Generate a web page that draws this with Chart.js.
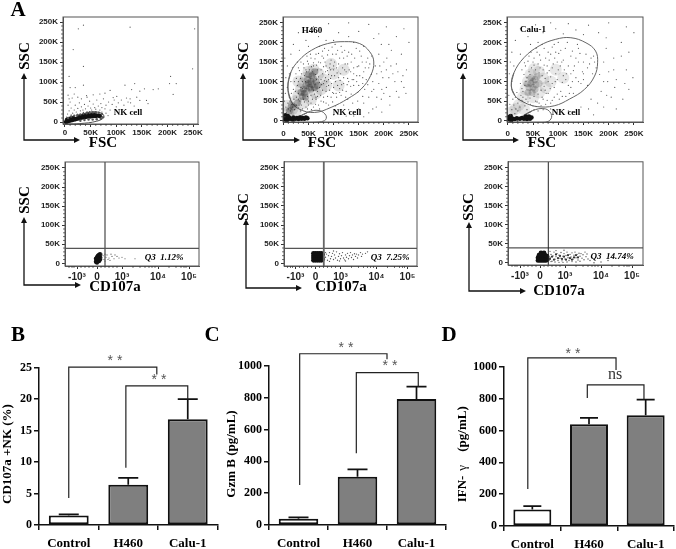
<!DOCTYPE html>
<html>
<head>
<meta charset="utf-8">
<style>
  html, body { margin: 0; padding: 0; background: #fff; }
  #fig { position: relative; width: 676px; height: 549px; overflow: hidden; }
  #fig canvas { position: absolute; filter: blur(0.3px); }
</style>
<script src="https://cdn.jsdelivr.net/npm/chart.js@4"></script>
</head>
<body>
<div id="fig"></div>
<script>
// Axis ticks
const scatterTicks = [0, 50, 100, 150, 200, 250];
const scatterLabels = ["0", "50K", "100K", "150K", "200K", "250K"];
const scatterMinor = [10, 20, 30, 40, 60, 70, 80, 90, 110, 120, 130, 140, 160, 170, 180, 190, 210, 220, 230, 240];
const cdTicks = [-20, 0, 25, 61, 92];
const cdLabels = ["-10³", "0", "10³", "10⁴", "10⁵"];
const cdMinor = [-28, -25, -23, -16, -12, -8, -4, 4, 8, 12, 16, 20, 36, 43, 48, 52, 55, 58, 72, 79, 84, 87, 89];

// Panel A, top row: NK cells only
const nkSparse = [[26,233],[36,242],[127,237],[253,233],[16,181],[36,139],[249,133],[8,114],[10,86],[20,86],[36,92],[6,67],[8,58],[43,62],[88,79],[117,92],[136,96],[130,81],[146,77],[155,83],[172,81],[182,83],[206,114],[217,96],[204,96],[211,69],[94,61],[101,64],[127,58],[123,50],[146,54],[159,54],[162,46],[5,20],[8,28],[12,35],[15,22],[18,30],[20,42],[22,25],[25,34],[28,48],[30,28],[32,38],[35,30],[38,44],[40,33],[43,26],[45,40],[48,52],[50,35],[52,30],[55,45],[58,36],[60,32],[62,55],[65,40],[68,30],[70,46],[72,36],[75,58],[78,33],[80,42],[85,50],[88,30],[92,44],[96,55],[100,38],[104,48],[110,55],[115,42],[120,60],[128,48],[135,40],[140,62],[10,50],[14,60],[6,42],[18,70],[25,62],[32,58],[42,66],[55,68],[68,70],[78,72],[3,12],[12,18],[24,20],[36,24],[48,26],[60,26],[72,25],[80,22],[84,16]];
const nkHalo = [[6,10],[12,14],[18,16],[24,17],[30,19],[36,21],[42,22],[48,23],[54,24],[60,24],[66,23],[72,20],[74,12],[70,8],[62,7],[54,6],[46,6],[38,5],[30,3]];
const nkBlob = [[2,0],[5,2],[8,3],[11,4],[14,5],[17,6],[20,7],[23,8],[26,9],[29,10],[32,11],[35,12],[38,12],[41,13],[44,14],[47,14],[50,14],[53,15],[56,15],[59,15],[62,16],[65,16],[68,15],[4,6],[10,8],[16,10],[28,14],[34,15],[40,17],[46,18],[52,18],[58,19]];
const nkGate = [[0,-2],[23,12],[49,25],[71,22],[76,12],[62,2],[29,-4],[3,-5]];

// H460 co-culture
const h460Sparse = [[30,225],[60,240],[90,248],[130,250],[170,246],[205,240],[240,235],[20,195],[45,205],[70,215],[110,225],[150,228],[190,222],[225,215],[250,200],[15,170],[195,195],[215,180],[235,170],[190,170],[200,150],[225,145],[245,130],[195,125],[210,110],[235,100],[190,95],[205,85],[225,75],[180,80],[170,60],[195,55],[160,45],[185,35],[150,30],[130,28],[110,25],[170,20],[140,12],[8,140],[5,110],[3,160],[12,60],[25,120],[30,135],[35,150],[45,130],[50,145],[55,160],[60,140],[65,170],[70,150],[75,130],[80,160],[85,140],[90,180],[95,155],[100,130],[105,170],[110,145],[115,190],[120,160],[125,125],[130,175],[135,150],[140,120],[145,185],[150,140],[155,165],[160,125],[165,150],[170,135],[140,90],[130,100],[120,95],[110,110],[100,85],[90,105],[85,75],[95,60],[105,70],[115,65],[125,75],[135,68],[80,60],[75,50],[70,40],[65,55],[60,35],[55,45],[50,50],[45,35],[85,45],[30,70],[35,85],[38,100],[42,115],[46,125],[52,130],[58,125],[64,118],[70,112],[75,105],[80,95],[72,85],[68,75],[62,68],[55,65],[48,62],[40,55],[33,50],[26,60],[28,90],[34,108],[60,148],[68,130],[78,120],[84,110],[90,90],[96,115],[88,128],[104,100],[76,92],[65,60],[58,55],[50,40],[3,10],[6,20],[10,30],[14,25],[18,35],[22,28],[26,40],[5,35],[9,45],[13,50],[17,42],[21,55],[30,33],[34,25],[38,30],[83,150],[92,135],[98,170],[107,122],[113,103],[118,135],[128,145],[137,105],[146,100],[152,115],[158,95],[122,180],[103,195],[78,178],[72,190],[47,165],[40,145],[22,100],[20,80],[16,70],[112,82],[98,72],[88,62],[148,72],[128,55],[165,105],[175,118],[183,140],[176,165],[160,190],[140,200],[100,205],[205,130],[218,120],[230,60],[200,70],[212,40],[240,85]];
const h460Fill = [[36,120],[41,135],[48,152],[54,170],[63,158],[70,172],[77,165],[82,185],[88,168],[93,145],[97,188],[102,150],[108,180],[112,160],[117,175],[123,145],[127,165],[131,130],[136,170],[142,160],[147,138],[152,178],[157,150],[163,135],[168,160],[172,145],[146,115],[140,105],[134,88],[127,92],[120,110],[114,120],[108,90],[102,115],[96,95],[92,78],[86,88],[82,102],[78,78],[74,65],[68,62],[60,78],[66,105],[72,98],[84,125],[90,118],[94,130],[100,140],[106,135],[112,72],[118,78],[124,60],[106,60],[98,48],[90,40],[80,48],[72,30],[64,42],[56,28],[48,30],[42,48],[36,40],[30,55],[24,75],[30,100],[26,108],[32,128],[38,82],[44,100],[56,138],[66,142],[74,148],[80,138],[86,100],[94,108],[100,70],[116,92],[122,130],[128,108],[134,125],[140,135],[150,90],[158,110],[162,80],[168,92],[178,100],[186,120],[192,140],[198,110],[206,160],[214,140],[222,100],[228,125],[196,80],[186,60],[176,75],[212,62],[238,115],[244,70],[158,62],[148,50],[138,45],[120,40],[104,38],[178,30],[196,22],[160,10],[125,12],[100,15],[210,195],[180,210],[130,215],[85,205],[50,190],[32,180],[28,150],[12,120],[18,135],[8,85],[4,70],[2,50],[15,100]];
const h460Haze = [[25,50],[30,65],[35,80],[40,95],[45,110],[50,125],[60,130],[70,120],[80,105],[75,80],[65,70],[55,55],[40,45],[85,90],[30,100],[60,90],[10,20],[18,30],[25,25],[8,38],[100,120],[110,90],[95,145],[120,130]];
const h460Core = [[40,80],[45,90],[50,95],[55,100],[52,85],[58,92],[48,105],[60,108],[42,70],[47,75],[55,80],[62,85],[65,100],[57,115],[50,118],[38,62],[44,60],[68,90],[35,72],[62,125],[28,45],[20,35],[12,25],[16,40]];
const h460Blob = [[3,3],[6,6],[3,9],[7,1],[10,4],[12,8],[15,5],[18,3],[20,8],[24,5],[27,7],[30,4],[33,8],[36,5],[39,7],[42,5],[45,8],[48,6],[4,14],[9,12]];
const h460Gate = [[9,86],[15,124],[31,154],[56,180],[88,197],[122,202],[152,197],[172,176],[180,150],[174,116],[155,81],[128,56],[95,34],[62,21],[31,30],[15,51]];
const h460NkGate = [[21,0],[48,21],[71,26],[85,13],[82,0],[55,-5],[28,-7]];

// Calu-1 co-culture
const caluSparse = [[25,235],[55,245],[85,250],[120,248],[160,244],[200,250],[235,240],[250,225],[40,215],[15,205],[70,225],[110,222],[150,220],[195,212],[225,200],[195,185],[240,175],[210,160],[190,150],[235,130],[200,125],[215,105],[190,100],[240,80],[185,75],[205,60],[165,55],[190,35],[145,35],[120,25],[170,15],[5,150],[3,120],[8,175],[28,130],[33,148],[42,165],[50,150],[58,175],[65,155],[72,185],[78,140],[85,170],[92,195],[98,150],[105,180],[112,130],[118,200],[125,165],[132,140],[140,185],[148,125],[155,170],[162,145],[168,120],[145,95],[135,110],[125,85],[115,105],[105,75],[95,120],[88,95],[80,70],[92,60],[102,55],[115,62],[130,70],[70,55],[62,45],[75,42],[55,50],[45,42],[85,45],[30,75],[34,90],[38,110],[42,125],[47,135],[55,130],[62,122],[68,115],[74,108],[80,100],[72,88],[66,78],[60,68],[52,62],[44,58],[36,55],[26,65],[25,95],[32,118],[60,145],[70,130],[78,122],[85,112],[92,85],[98,105],[88,135],[108,98],[74,78],[5,15],[8,28],[12,40],[16,30],[20,45],[24,35],[28,52],[4,42],[10,55],[15,60],[34,38],[38,28],[44,22],[52,28],[60,25],[70,28],[125,120],[140,150],[110,155],[95,175],[82,155],[150,105],[158,90],[175,135],[170,165],[138,195],[100,200],[60,200],[212,85],[228,55],[178,45]];
const caluFill = [[35,140],[40,152],[46,175],[52,160],[56,185],[63,168],[68,195],[75,160],[80,175],[88,188],[93,160],[101,172],[107,150],[114,185],[120,140],[128,178],[135,160],[143,172],[150,150],[158,135],[165,160],[172,150],[150,120],[140,100],[128,100],[120,90],[110,115],[100,130],[94,100],[84,82],[76,70],[68,60],[58,48],[50,38],[40,48],[30,60],[28,82],[36,100],[44,118],[52,142],[64,135],[72,142],[82,128],[90,145],[104,140],[116,120],[130,128],[122,70],[108,62],[98,68],[88,52],[78,52],[66,38],[56,36],[20,25],[14,18],[22,55],[18,72],[210,130],[225,165],[198,100],[182,118],[248,110],[232,95],[196,65],[215,30],[160,30],[135,22],[105,25],[85,30],[180,225],[135,232],[95,235],[45,195],[25,170],[12,140],[8,100],[2,65]];
const caluHaze = [[30,60],[35,80],[40,100],[45,118],[52,132],[62,125],[70,108],[75,85],[62,72],[50,60],[85,100],[95,130],[110,110],[15,30],[22,40],[8,22],[32,30]];
const caluCore = [[42,85],[46,95],[50,100],[54,105],[50,85],[56,92],[46,110],[58,112],[40,72],[48,72],[54,80],[62,95],[38,95]];
const caluBlob = [[3,3],[6,6],[3,10],[7,1],[6,12],[10,5],[14,4],[18,6],[24,5],[28,7],[32,5],[35,8],[38,4],[41,7],[44,5],[47,8],[36,11],[42,11]];
const caluGate = [[7,89],[12,122],[32,161],[62,191],[95,208],[125,212],[155,199],[174,178],[178,148],[172,114],[152,80],[122,55],[92,38],[58,36],[32,47],[14,64]];
const caluNkGate = [[19,0],[48,25],[75,30],[87,13],[80,-2],[55,-5],[25,-7]];

// Panel A, bottom row: x is the biexponential display channel
const q1Sparse = [[5,14],[6,20],[7,10],[9,16],[10,22],[12,14],[13,8],[15,18],[17,12],[18,22],[22,14],[38,12],[8,6],[11,10],[5,25],[8,24],[14,24],[20,18],[25,16],[28,12]];
const q1Blob = [[-1,4],[0,8],[1,12],[2,6],[3,16],[-1,12],[1,20],[3,10],[0,16],[2,22],[3,24],[0,2]];
const q2Sparse = [[9,10],[10,16],[11,24],[12,8],[13,20],[14,28],[15,12],[16,18],[17,26],[18,10],[19,22],[20,14],[21,30],[22,8],[23,18],[24,25],[25,12],[26,20],[27,28],[28,14],[29,9],[30,22],[31,16],[32,26],[33,12],[34,20],[35,28],[36,15],[37,22],[38,10],[39,25],[40,18],[41,24],[42,14],[43,22],[45,28],[46,18],[47,24],[50,26],[52,30],[10,28],[14,5],[18,32],[24,6],[30,6]];
const q2Blob = [[-2,8],[0,8],[2,8],[4,8],[6,8],[-2,14],[0,14],[2,14],[4,14],[6,14],[-2,20],[0,20],[2,20],[4,20],[6,20],[-2,26],[0,26],[2,26],[4,26],[6,26],[7,11],[7,23]];
const q3Sparse = [[9,6],[10,14],[11,22],[12,4],[13,18],[14,28],[15,9],[16,16],[17,24],[18,6],[19,20],[20,12],[21,27],[22,5],[23,17],[24,24],[25,10],[26,19],[27,28],[28,13],[29,6],[30,22],[31,15],[32,26],[33,9],[34,20],[35,28],[36,13],[37,22],[38,7],[39,25],[40,17],[41,24],[42,12],[43,21],[44,8],[45,28],[46,16],[47,23],[48,10],[50,6],[52,14],[54,0],[61,2],[68,6],[10,30],[16,32],[24,33],[11,3],[15,2],[19,1],[23,1],[27,2],[32,3],[36,2],[40,4]];
const q3Mid = [[10,10],[12,16],[14,8],[16,22],[18,12],[20,18],[22,10],[24,16],[26,8],[28,20],[30,12],[32,8],[34,14],[36,20],[38,14]];
const q3Blob = [[-2,6],[0,6],[2,6],[4,6],[6,6],[-2,13],[0,13],[2,13],[4,13],[6,13],[-1,20],[1,20],[3,20],[5,20],[7,9],[7,17],[1,26],[4,26]];
const sscThreshold = [39, 39, 39, 39];

// Panels B, C and D
const groups = ["Control", "H460", "Calu-1"];
const cd107Means = [1.5, 6.4, 16.8];
const cd107Upper = [1.7, 7.5, 20];
const gzmMeans = [40, 303, 793];
const gzmUpper = [48, 350, 870];
const ifnMeans = [103, 640, 697];
const ifnUpper = [125, 680, 795];
const cd107Ticks = [0, 5, 10, 15, 20, 25];
const pgTicks = [0, 200, 400, 600, 800, 1000];
// bracket legs: [x1, y1, top, x2, y2]
const cd107Brackets = [[0, 4.3, 25.1, 1.48, 23.9], [0.96, 9.1, 22.1, 2, 20]];
const gzmBrackets = [[0.02, 252, 1077, 1.5, 1042], [0.98, 452, 958, 2.03, 870]];
const ifnBrackets = [[-0.08, 233, 1057, 1.477, 981], [0.97, 805, 887, 1.97, 795]];

const serif = '"Liberation Serif", serif';
const sans = '"Liberation Sans", sans-serif';

const toXY = (pairs) => pairs.map(([x, y]) => ({ x, y }));

// Draws the extras that all panels share: frame, minor ticks, arrows, text
const decorate = {
  id: "decorate",
  afterDatasetsDraw(chart, args, opts) {
    const { ctx, chartArea: area, scales } = chart;
    ctx.save();
    if (opts.frame) {
      ctx.strokeStyle = "#555";
      ctx.lineWidth = 1;
      ctx.strokeRect(area.left, area.top, area.right - area.left, area.bottom - area.top);
    }
    ctx.strokeStyle = "#333";
    ctx.lineWidth = 0.7;
    (opts.minorX || []).forEach((v) => {
      const px = scales.x.getPixelForValue(v);
      ctx.beginPath();
      ctx.moveTo(px, area.bottom);
      ctx.lineTo(px, area.bottom + 2);
      ctx.stroke();
    });
    (opts.minorY || []).forEach((v) => {
      const py = scales.y.getPixelForValue(v);
      ctx.beginPath();
      ctx.moveTo(area.left, py);
      ctx.lineTo(area.left - 2, py);
      ctx.stroke();
    });

    // error bars
    if (opts.upper) {
      const meta = chart.getDatasetMeta(0);
      ctx.strokeStyle = "#111";
      ctx.lineWidth = 1.7;
      opts.upper.forEach((v, i) => {
        const px = meta.data[i].x;
        const top = scales.y.getPixelForValue(v);
        ctx.beginPath();
        ctx.moveTo(px, meta.data[i].y);
        ctx.lineTo(px, top);
        ctx.moveTo(px - opts.cap, top);
        ctx.lineTo(px + opts.cap, top);
        ctx.stroke();
      });
    }
    // significance brackets
    ctx.strokeStyle = "#222";
    ctx.lineWidth = 1.2;
    (opts.brackets || []).forEach(([x1, y1, top, x2, y2]) => {
      ctx.beginPath();
      ctx.moveTo(scales.x.getPixelForValue(x1), scales.y.getPixelForValue(y1));
      ctx.lineTo(scales.x.getPixelForValue(x1), scales.y.getPixelForValue(top));
      ctx.lineTo(scales.x.getPixelForValue(x2), scales.y.getPixelForValue(top));
      ctx.lineTo(scales.x.getPixelForValue(x2), scales.y.getPixelForValue(y2));
      ctx.stroke();
    });
    ctx.restore();

    // rest is laid out in page pixels
    ctx.save();
    ctx.translate(-opts.left, -opts.top);
    if (opts.arrow) {
      const [cx, cy, upTip, rightTip] = opts.arrow;
      ctx.strokeStyle = "#111";
      ctx.fillStyle = "#111";
      ctx.lineWidth = 1.3;
      ctx.beginPath();
      ctx.moveTo(cx, upTip + 4);
      ctx.lineTo(cx, cy);
      ctx.lineTo(rightTip - 4, cy);
      ctx.stroke();
      ctx.beginPath();
      ctx.moveTo(cx, upTip);
      ctx.lineTo(cx - 3, upTip + 6);
      ctx.lineTo(cx + 3, upTip + 6);
      ctx.moveTo(rightTip, cy);
      ctx.lineTo(rightTip - 6, cy - 3);
      ctx.lineTo(rightTip - 6, cy + 3);
      ctx.fill();
    }
    ctx.textAlign = "center";
    ctx.textBaseline = "middle";
    (opts.texts || []).forEach((t) => {
      ctx.save();
      ctx.translate(t.x, t.y);
      if (t.rotate) ctx.rotate(-Math.PI / 2);
      ctx.font = t.font;
      ctx.fillStyle = t.color || "#000";
      ctx.fillText(t.text, 0, 0);
      ctx.restore();
    });
    ctx.restore();
  },
};

function addCanvas(r) {
  const canvas = document.createElement("canvas");
  canvas.width = r.w;
  canvas.height = r.h;
  canvas.style.left = r.x + "px";
  canvas.style.top = r.y + "px";
  canvas.style.width = r.w + "px";
  canvas.style.height = r.h + "px";
  document.getElementById("fig").appendChild(canvas);
  return canvas;
}

const dots = (pairs, radius, color) => ({
  data: toXY(pairs), pointRadius: radius, backgroundColor: color, borderWidth: 0, pointHoverRadius: 0, showLine: false,
});
// repeats the ends so the smoothing closes without a kink
const gate = (pairs, color) => ({
  data: toXY([pairs[pairs.length - 1], ...pairs, pairs[0], pairs[1]]),
  showLine: true, tension: 0.4, pointRadius: 0, borderColor: color, borderWidth: 1,
});
const rule = (xs, ys, color, width) => ({
  data: toXY(xs.map((x, i) => [x, ys[i]])), showLine: true, tension: 0, pointRadius: 0, borderColor: color, borderWidth: width,
});

function dotPlot(p) {
  const r = p.canvas;
  const b = p.box;
  new Chart(addCanvas(r), {
    type: "scatter",
    data: { datasets: p.datasets },
    options: {
      responsive: false,
      animation: false,
      layout: { padding: { top: b.top - r.y, right: r.x + r.w - b.right, left: 0, bottom: 0 } },
      plugins: {
        legend: { display: false },
        tooltip: { enabled: false },
        decorate: {
          frame: true, left: r.x, top: r.y, arrow: p.arrow, texts: p.texts,
          minorX: p.minorX, minorY: scatterMinor,
        },
      },
      scales: {
        x: {
          type: "linear", min: p.xMin, max: p.xMax,
          grid: { drawOnChartArea: false, tickLength: 3, color: "#333" },
          border: { color: "#555" },
          afterBuildTicks: (s) => { s.ticks = p.xTicks.map((value) => ({ value })); },
          afterFit: (s) => { s.height = r.y + r.h - b.bottom; },
          ticks: {
            autoSkip: false, maxRotation: 0, padding: p.xPad, color: "#222",
            font: { family: sans, size: p.xSize, weight: "bold" },
            callback: (v) => p.xLabels[p.xTicks.indexOf(v)],
          },
        },
        y: {
          type: "linear", min: p.yMin, max: p.yMax,
          grid: { drawOnChartArea: false, tickLength: 3, color: "#333" },
          border: { color: "#555" },
          afterBuildTicks: (s) => { s.ticks = scatterTicks.map((value) => ({ value })); },
          afterFit: (s) => { s.width = b.left - r.x; },
          ticks: {
            autoSkip: false, padding: 2, color: "#222",
            font: { family: sans, size: 8, weight: "bold" },
            callback: (v) => scatterLabels[scatterTicks.indexOf(v)],
          },
        },
      },
    },
    plugins: [decorate],
  });
}

function barPlot(p) {
  const r = p.canvas;
  const b = p.box;
  new Chart(addCanvas(r), {
    type: "bar",
    data: {
      labels: groups,
      datasets: [{
        data: p.means,
        backgroundColor: ["#ffffff", "#7f7f7f", "#7f7f7f"],
        borderColor: "#111",
        borderWidth: 2,
        borderSkipped: false,
        barPercentage: p.barShare,
        categoryPercentage: 1,
      }],
    },
    options: {
      responsive: false,
      animation: false,
      layout: { padding: { top: b.top - r.y, right: r.x + r.w - b.right, left: 0, bottom: 0 } },
      plugins: {
        legend: { display: false },
        tooltip: { enabled: false },
        decorate: { left: r.x, top: r.y, upper: p.upper, cap: p.cap, brackets: p.brackets, texts: p.texts },
      },
      scales: {
        x: {
          grid: { drawOnChartArea: false, tickLength: 5, color: "#111", lineWidth: 1.5 },
          border: { color: "#111", width: 1.5 },
          afterFit: (s) => { s.height = r.y + r.h - b.bottom; },
          ticks: { padding: 6, color: "#000", maxRotation: 0, font: { family: serif, size: 13, weight: "bold" } },
        },
        y: {
          min: 0, max: p.ticks[p.ticks.length - 1],
          grid: { drawOnChartArea: false, tickLength: 5, color: "#111", lineWidth: 1.5 },
          border: { color: "#111", width: 1.5 },
          afterBuildTicks: (s) => { s.ticks = p.ticks.map((value) => ({ value })); },
          afterFit: (s) => { s.width = b.left - r.x; },
          ticks: {
            padding: 2, color: "#000", font: { family: serif, size: 12, weight: "bold" },
            callback: (v) => String(v),
          },
        },
      },
    },
    plugins: [decorate],
  });
}

const titleFont = `bold 15px ${serif}`;
const gateFont = `bold 9px ${serif}`;
const quadFont = `italic bold 9px ${serif}`;
const letterFont = `bold 21px ${serif}`;
const barTitleFont = `bold 13px ${serif}`;
const starFont = `14px ${sans}`;
const fineDot = "#555";

// A, top row
dotPlot({
  canvas: { x: 0, y: 0, w: 225, h: 160 },
  box: { left: 63, right: 198, top: 17, bottom: 124 },
  xMin: -3.9, xMax: 259.5, yMin: -5, yMax: 262.5,
  xTicks: scatterTicks, xLabels: scatterLabels, minorX: scatterMinor, xPad: 1, xSize: 8,
  arrow: [24, 140, 73, 80],
  datasets: [dots(nkSparse, 0.6, fineDot), dots(nkHalo, 1.2, "#555"), dots(nkBlob, 2.2, "#111"), gate(nkGate, "#555")],
  texts: [
    { text: "A", x: 18, y: 11, font: letterFont },
    { text: "SSC", x: 25, y: 56, font: titleFont, rotate: true },
    { text: "FSC", x: 103, y: 143, font: titleFont },
    { text: "NK cell", x: 128, y: 113, font: gateFont },
  ],
});
dotPlot({
  canvas: { x: 225, y: 0, w: 225, h: 160 },
  box: { left: 283, right: 418, top: 17, bottom: 122 },
  xMin: -0.7, xMax: 268, yMin: -3.4, yMax: 265,
  xTicks: scatterTicks, xLabels: scatterLabels, minorX: scatterMinor, xPad: 4, xSize: 8,
  arrow: [243, 140, 73, 300],
  datasets: [
    dots(h460Haze, 6, "rgba(30,30,30,0.13)"), dots(h460Core, 3.5, "rgba(30,30,30,0.28)"),
    dots(h460Sparse, 0.6, fineDot), dots(h460Fill, 0.6, fineDot), dots(h460Blob, 2.2, "#111"),
    gate(h460Gate, "#666"), gate(h460NkGate, "#666"),
  ],
  texts: [
    { text: "SSC", x: 244, y: 56, font: titleFont, rotate: true },
    { text: "FSC", x: 322, y: 143, font: titleFont },
    { text: "H460", x: 312, y: 31, font: gateFont },
    { text: "NK cell", x: 347, y: 113, font: gateFont },
  ],
});
dotPlot({
  canvas: { x: 450, y: 0, w: 226, h: 160 },
  box: { left: 507, right: 643, top: 17, bottom: 122 },
  xMin: -1.6, xMax: 268, yMin: -3.4, yMax: 265,
  xTicks: scatterTicks, xLabels: scatterLabels, minorX: scatterMinor, xPad: 4, xSize: 8,
  arrow: [463, 140, 73, 519],
  datasets: [
    dots(caluHaze, 6, "rgba(30,30,30,0.1)"), dots(caluCore, 3.5, "rgba(30,30,30,0.2)"),
    dots(caluSparse, 0.6, fineDot), dots(caluFill, 0.6, fineDot), dots(caluBlob, 2.2, "#111"),
    gate(caluGate, "#666"), gate(caluNkGate, "#666"),
  ],
  texts: [
    { text: "SSC", x: 463, y: 56, font: titleFont, rotate: true },
    { text: "FSC", x: 542, y: 143, font: titleFont },
    { text: "Calu-1", x: 533, y: 30, font: gateFont },
    { text: "NK cell", x: 566, y: 113, font: gateFont },
  ],
});

// A, bottom row
dotPlot({
  canvas: { x: 0, y: 155, w: 225, h: 160 },
  box: { left: 65, right: 199, top: 162, bottom: 266 },
  xMin: -32, xMax: 102, yMin: -7, yMax: 265.6,
  xTicks: cdTicks, xLabels: cdLabels, minorX: cdMinor, xPad: 2, xSize: 10,
  arrow: [24, 285, 217, 81],
  datasets: [
    rule([8, 8], [-7, 265.6], "#555", 1.3), rule([-32, 102], [sscThreshold[0], sscThreshold[0]], "#555", 1.3),
    dots(q1Sparse, 0.6, fineDot), dots(q1Blob, 2.2, "#111"),
  ],
  texts: [
    { text: "SSC", x: 25, y: 200, font: titleFont, rotate: true },
    { text: "CD107a", x: 115, y: 287, font: titleFont },
    { text: "Q3  1.12%", x: 164, y: 258, font: quadFont },
  ],
});
dotPlot({
  canvas: { x: 225, y: 155, w: 225, h: 160 },
  box: { left: 284, right: 417, top: 161, bottom: 266 },
  xMin: -31.5, xMax: 101.5, yMin: -7, yMax: 265,
  xTicks: cdTicks, xLabels: cdLabels, minorX: cdMinor, xPad: 2, xSize: 10,
  arrow: [246, 288, 219, 302],
  datasets: [
    rule([8.3, 8.3], [-7, 265], "#666", 1.8), rule([-31.5, 101.5], [sscThreshold[1], sscThreshold[1]], "#555", 1.3),
    dots(q2Sparse, 0.7, fineDot), dots(q2Blob, 2.4, "#111"),
  ],
  texts: [
    { text: "SSC", x: 244, y: 207, font: titleFont, rotate: true },
    { text: "CD107a", x: 341, y: 287, font: titleFont },
    { text: "Q3  7.25%", x: 390, y: 258, font: quadFont },
  ],
});
dotPlot({
  canvas: { x: 450, y: 155, w: 226, h: 160 },
  box: { left: 508, right: 643, top: 161, bottom: 265 },
  xMin: -32, xMax: 103, yMin: -6, yMax: 266,
  xTicks: cdTicks, xLabels: cdLabels, minorX: cdMinor, xPad: 2, xSize: 10,
  arrow: [469, 291, 222, 526],
  datasets: [
    rule([8.3, 8.3], [-6, 266], "#222", 1), rule([-32, 103], [sscThreshold[2], sscThreshold[2]], "#555", 1.3),
    dots(q3Sparse, 0.7, fineDot), dots(q3Mid, 1.1, "#333"), dots(q3Blob, 2.4, "#111"),
  ],
  texts: [
    { text: "SSC", x: 469, y: 207, font: titleFont, rotate: true },
    { text: "CD107a", x: 559, y: 291, font: titleFont },
    { text: "Q3  14.74%", x: 612, y: 257, font: quadFont },
  ],
});

// B, C, D
barPlot({
  canvas: { x: 0, y: 325, w: 222, h: 224 },
  box: { left: 39, right: 217.5, top: 367.7, bottom: 525 },
  means: cd107Means, upper: cd107Upper, brackets: cd107Brackets, ticks: cd107Ticks,
  barShare: 0.67, cap: 10,
  texts: [
    { text: "B", x: 18, y: 336, font: letterFont },
    { text: "CD107a +NK (%)", x: 8, y: 454, font: barTitleFont, rotate: true },
    { text: "* *", x: 115, y: 361, font: starFont, color: "#555" },
    { text: "* *", x: 159, y: 380, font: starFont, color: "#555" },
  ],
});
barPlot({
  canvas: { x: 200, y: 325, w: 248, h: 224 },
  box: { left: 269, right: 446, top: 366, bottom: 525 },
  means: gzmMeans, upper: gzmUpper, brackets: gzmBrackets, ticks: pgTicks,
  barShare: 0.67, cap: 10,
  texts: [
    { text: "C", x: 212, y: 336, font: letterFont },
    { text: "Gzm B (pg/mL)", x: 232, y: 454, font: barTitleFont, rotate: true },
    { text: "* *", x: 346, y: 348, font: starFont, color: "#555" },
    { text: "* *", x: 390, y: 366, font: starFont, color: "#555" },
  ],
});
barPlot({
  canvas: { x: 436, y: 325, w: 240, h: 224 },
  box: { left: 504, right: 674, top: 367, bottom: 526 },
  means: ifnMeans, upper: ifnUpper, brackets: ifnBrackets, ticks: pgTicks,
  barShare: 0.67, cap: 9,
  texts: [
    { text: "D", x: 449, y: 336, font: letterFont },
    { text: "IFN-", x: 463, y: 489, font: barTitleFont, rotate: true },
    { text: "γ", x: 463, y: 468, font: `13px ${serif}`, rotate: true },
    { text: "(pg/mL)", x: 463, y: 429, font: barTitleFont, rotate: true },
    { text: "* *", x: 573, y: 354, font: starFont, color: "#555" },
    { text: "ns", x: 615, y: 375, font: `16px ${serif}`, color: "#333" },
  ],
});
</script>
</body>
</html>
